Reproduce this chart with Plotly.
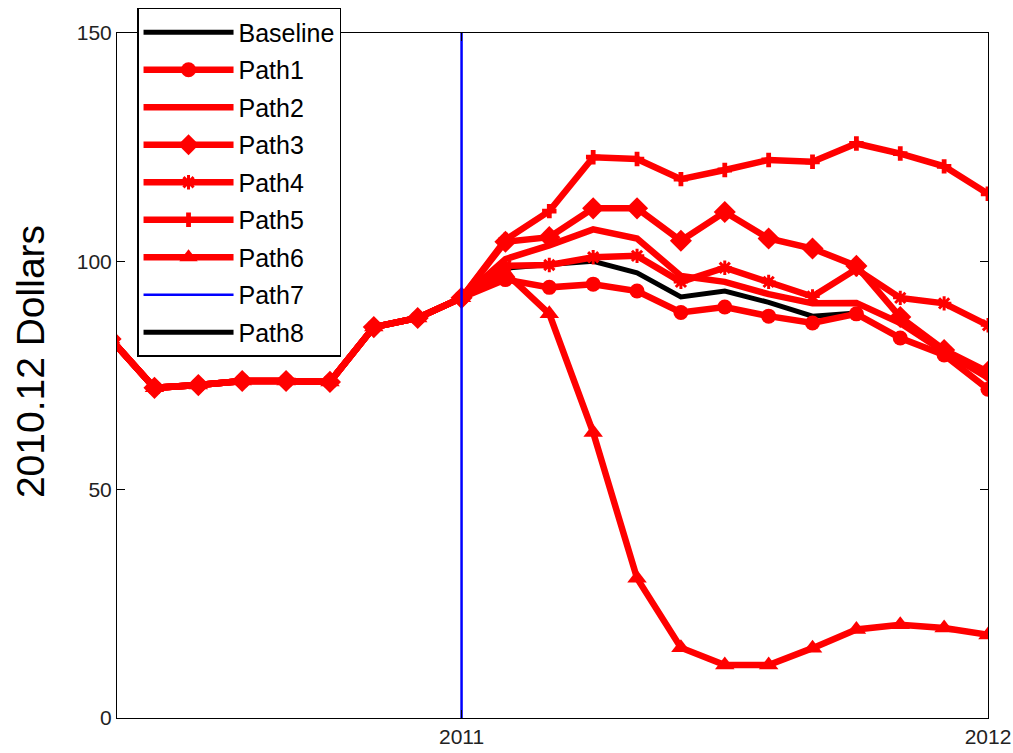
import plotly.graph_objects as go

# ---------------- data ----------------
hist_months = ["2010-05", "2010-06", "2010-07", "2010-08", "2010-09",
               "2010-10", "2010-11", "2010-12", "2011-01"]
hist_values = [83.0, 72.3, 72.9, 73.8, 73.8, 73.6, 85.6, 87.6, 92.0]

future_months = ["2011-02", "2011-03", "2011-04", "2011-05", "2011-06", "2011-07",
                 "2011-08", "2011-09", "2011-10", "2011-11", "2011-12", "2012-01"]

baseline = [98.5, 99.3, 100.0, 97.5, 92.2, 93.5, 91.0, 88.0, 88.7]
path1 = [96.0, 94.3, 95.0, 93.5, 88.8, 90.0, 88.0, 86.5, 88.5, 83.2, 79.5, 72.0]
path2 = [100.5, 103.5, 107.0, 105.0, 96.8, 95.5, 92.8, 90.8, 90.9, 86.5, 80.2, 74.5]
path3 = [104.3, 105.3, 111.6, 111.6, 104.5, 110.8, 105.0, 102.8, 99.0, 87.8, 80.6, 75.8]
path4 = [99.0, 99.2, 100.9, 101.2, 95.5, 98.6, 95.5, 92.3, 98.3, 92.0, 90.8, 86.0]
path5 = [104.7, 111.0, 122.8, 122.4, 118.0, 120.0, 122.2, 121.8, 125.8, 123.6, 120.8, 114.8]
path6 = [97.5, 88.5, 62.5, 30.6, 15.4, 11.6, 11.6, 15.3, 19.4, 20.4, 19.7, 18.2]

event_month = "2011-01"
y_limits = [0, 150]
x_ticks = [2011, 2012]
y_title = "2010.12 Dollars"


def to_year(m):
    y, mo = m.split("-")
    return int(y) + (int(mo) - 1) / 12.0


hx = [to_year(m) for m in hist_months]
fx = [to_year(m) for m in future_months]

RED = "#ff0000"
LW = 6.5
fig = go.Figure()

# baseline (black)
fig.add_trace(go.Scatter(
    x=hx + fx[:len(baseline)], y=hist_values + baseline,
    mode="lines", name="Baseline", legendgroup="g0",
    line=dict(color="black", width=5)))

styles = [
    ("Path1", path1, dict(symbol="circle", size=15)),
    ("Path2", path2, dict(symbol="circle", size=3)),
    ("Path3", path3, dict(symbol="diamond", size=17)),
    ("Path4", path4, dict(symbol="asterisk-open", size=12, line=dict(color=RED, width=3))),
    ("Path5", path5, dict(symbol="cross", size=12)),
    ("Path6", path6, dict(symbol="triangle-up", size=17)),
]
for i, (name, vals, mk) in enumerate(styles):
    mk = dict(mk)
    mk.setdefault("color", RED)
    fig.add_trace(go.Scatter(
        x=hx + fx, y=hist_values + vals, mode="lines+markers", name=name,
        legendgroup=f"g{i+1}",
        line=dict(color=RED, width=LW), marker=mk))

ex = to_year(event_month)
fig.add_trace(go.Scatter(
    x=[ex, ex], y=y_limits, mode="lines", name="Path7", legendgroup="g7",
    line=dict(color="#0000ff", width=2.5)))
fig.add_trace(go.Scatter(
    x=[None], y=[None], mode="lines", name="Path8", legendgroup="g8",
    line=dict(color="black", width=5)))

font = "Liberation Sans, Arial, sans-serif"
fig.update_layout(
    template="none",
    width=1013, height=753,
    margin=dict(l=117, r=25, t=33, b=35, autoexpand=False),
    paper_bgcolor="white", plot_bgcolor="white",
    font=dict(family=font, size=21, color="#222222"),
    showlegend=True,
    legend=dict(x=0.023, y=1.0365, xanchor="left", yanchor="top",
                bgcolor="white", bordercolor="black", borderwidth=1.5,
                font=dict(family=font, size=25, color="black"),
                tracegroupgap=2, itemwidth=90),
    xaxis=dict(range=[2010.3455, 2012.0], tickvals=x_ticks,
               ticktext=[str(t) for t in x_ticks], automargin=False,
               showgrid=False, zeroline=False, showline=True, linecolor="black",
               linewidth=1, mirror="ticks", ticks="inside", ticklen=8,
               tickcolor="black", tickfont=dict(size=21, color="#222222")),
    yaxis=dict(range=y_limits, tickvals=[0, 50, 100, 150], automargin=False,
               showgrid=False, zeroline=False, showline=True, linecolor="black",
               linewidth=1, mirror="ticks", ticks="inside", ticklen=8,
               tickcolor="black", tickfont=dict(size=21, color="#222222")),
    annotations=[dict(text=y_title, textangle=-90, xref="paper", yref="paper",
                      x=-0.0999, y=0.521, xanchor="center", yanchor="middle",
                      showarrow=False, font=dict(family=font, size=39, color="black"))],
)

fig.write_html("out.html", config={"displayModeBar": False},
               post_script="document.body.style.margin='0';")
